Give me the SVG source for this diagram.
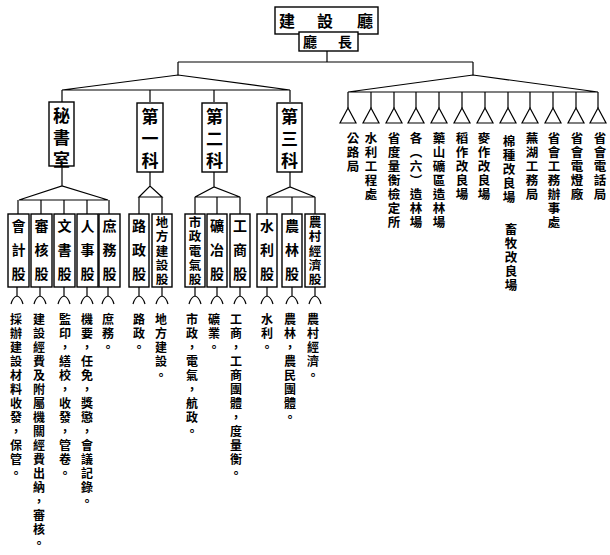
<svg xmlns="http://www.w3.org/2000/svg" width="610" height="555" viewBox="0 0 610 555">
<style>
.b{fill:#fff;stroke:#000;stroke-width:1.4}
.l{fill:none;stroke:#000;stroke-width:1.2}
.t{font-family:"Noto Sans CJK TC","Noto Sans CJK SC",sans-serif;font-weight:bold;fill:#000}
.h{text-anchor:middle}
.v{writing-mode:vertical-rl}
.k{font-size:17px;letter-spacing:5px}
.s3{font-size:14px;letter-spacing:10px}
.s5{font-size:12.5px;letter-spacing:1.8px}
.d{font-size:12px;letter-spacing:2px}
.r{font-size:12.5px;letter-spacing:1.5px}
</style>
<rect width="610" height="555" fill="#fff"/>
<g id="connectors" class="l">
<path d="M327 51V62M178 62H473M178 62V75M473 62V75"/>
<path d="M62 90L178 75L290 90ZM62 90V102M150 90V102M214 90V102M290 90V102"/>
<path d="M348 92L473 75L598 92Z"/>
<path d="M348 92V108M371 92V108M394 92V108M416 92V108M439 92V108M462 92V108M485 92V108M508 92V108M530 92V108M553 92V108M576 92V108M598 92V108"/>
<path d="M62 166V186M19 200L62 186L108 200ZM18 200V214M41 200V214M64 200V214M87 200V214M109 200V214"/>
<path d="M150 172V186M139 197L150 186L162 197ZM139 197V214M162 197V214"/>
<path d="M214 172V187M195 197L214 187L240 197ZM195 197V214M217 197V214M240 197V214"/>
<path d="M290 172V187M267 197L290 187L315 197ZM267 197V214M292 197V214M315 197V214"/>
<path d="M17 287V296M11 304Q13 297 17 296Q21 297 23 304M40 287V296M34 304Q36 297 40 296Q44 297 46 304M64 287V296M58 304Q60 297 64 296Q68 297 70 304M87 287V296M81 304Q83 297 87 296Q91 297 93 304M108 287V296M102 304Q104 297 108 296Q112 297 114 304"/>
<path d="M139 287V296M133 304Q135 297 139 296Q143 297 145 304M162 287V296M156 304Q158 297 162 296Q166 297 168 304M195 287V296M189 304Q191 297 195 296Q199 297 201 304M217 287V296M211 304Q213 297 217 296Q221 297 223 304M240 287V296M234 304Q236 297 240 296Q244 297 246 304M267 287V296M261 304Q263 297 267 296Q271 297 273 304M292 287V296M286 304Q288 297 292 296Q296 297 298 304M315 287V296M309 304Q311 297 315 296Q319 297 321 304"/>
</g>
<g id="n-ting">
<rect class="b" x="275" y="7" width="103" height="27"/>
<text class="t h" font-size="16" y="27"><tspan x="287">建</tspan><tspan x="325">設</tspan><tspan x="365">廳</tspan></text>
</g>
<g id="n-tingzhang">
<rect class="b" x="299" y="32" width="59" height="19"/>
<text class="t h" font-size="14" y="47"><tspan x="310">廳</tspan><tspan x="345">長</tspan></text>
</g>
<g id="n-mishu"><rect class="b" x="49" y="102" width="25" height="64"/><text class="t v k" x="61.5" y="107">秘書室</text></g>
<g id="n-ke1"><rect class="b" x="137" y="103" width="26" height="69"/><text class="t v k" x="150" y="108">第一科</text></g>
<g id="n-ke2"><rect class="b" x="202" y="103" width="25" height="69"/><text class="t v k" x="214.5" y="108">第二科</text></g>
<g id="n-ke3"><rect class="b" x="277" y="103" width="25" height="69"/><text class="t v k" x="289.5" y="108">第三科</text></g>

<g id="n-kuaiji"><rect class="b" x="8" y="214" width="21" height="73"/><text class="t v s3" x="18.5" y="219">會計股</text><text class="t v d" x="16" y="313">採辦建設材料收發，保管。</text></g>
<g id="n-shenhe"><rect class="b" x="31" y="214" width="21" height="73"/><text class="t v s3" x="41.5" y="219">審核股</text><text class="t v d" x="39" y="313">建設經費及附屬機關經費出納，審核。</text></g>
<g id="n-wenshu"><rect class="b" x="54" y="214" width="21" height="73"/><text class="t v s3" x="64.5" y="219">文書股</text><text class="t v d" x="65" y="313">監印，繕校，收發，管卷。</text></g>
<g id="n-renshi"><rect class="b" x="77" y="214" width="21" height="73"/><text class="t v s3" x="87.5" y="219">人事股</text><text class="t v d" x="87" y="313">機要，任免，獎懲，會議記錄。</text></g>
<g id="n-shuwu"><rect class="b" x="99" y="214" width="21" height="73"/><text class="t v s3" x="109.5" y="219">庶務股</text><text class="t v d" x="108" y="313">庶務。</text></g>

<g id="n-luzheng"><rect class="b" x="129" y="214" width="20" height="73"/><text class="t v s3" x="139" y="219">路政股</text><text class="t v d" x="139" y="313">路政。</text></g>
<g id="n-difang"><rect class="b" x="152" y="214" width="20" height="73"/><text class="t v s5" x="162" y="216">地方建設股</text><text class="t v d" x="161" y="313">地方建設。</text></g>
<g id="n-shizheng"><rect class="b" x="185" y="214" width="20" height="73"/><text class="t v s5" x="195" y="216">市政電氣股</text><text class="t v d" x="192" y="313">市政，電氣，航政。</text></g>
<g id="n-kuangye"><rect class="b" x="207" y="214" width="20" height="73"/><text class="t v s3" x="217" y="219">礦冶股</text><text class="t v d" x="214" y="313">礦業。</text></g>
<g id="n-gongshang"><rect class="b" x="230" y="214" width="20" height="73"/><text class="t v s3" x="240" y="219">工商股</text><text class="t v d" x="236" y="313">工商，工商團體，度量衡。</text></g>
<g id="n-shuili"><rect class="b" x="257" y="214" width="20" height="73"/><text class="t v s3" x="267" y="219">水利股</text><text class="t v d" x="267" y="313">水利。</text></g>
<g id="n-nonglin"><rect class="b" x="282" y="214" width="20" height="73"/><text class="t v s3" x="292" y="219">農林股</text><text class="t v d" x="290" y="313">農林，農民團體。</text></g>
<g id="n-nongcun"><rect class="b" x="305" y="214" width="20" height="73"/><text class="t v s5" x="315" y="216">農村經濟股</text><text class="t v d" x="313" y="313">農村經濟。</text></g>

<g id="n-r1"><path class="l" d="M348 108L340 123H356Z"/><text class="t v r" x="353" y="132">公路局</text></g>
<g id="n-r2"><path class="l" d="M371 108L363 123H379Z"/><text class="t v r" x="371" y="132">水利工程處</text></g>
<g id="n-r3"><path class="l" d="M394 108L386 123H402Z"/><text class="t v r" x="394" y="132">省度量衡檢定所</text></g>
<g id="n-r4"><path class="l" d="M416 108L408 123H424Z"/><text class="t v r" x="416" y="132">各（六）</text><text class="t v r" x="416" y="188">造林場</text></g>
<g id="n-r5"><path class="l" d="M439 108L431 123H447Z"/><text class="t v r" x="439" y="132">藥山礦區造林場</text></g>
<g id="n-r6"><path class="l" d="M462 108L454 123H470Z"/><text class="t v r" x="462" y="132">稻作改良場</text></g>
<g id="n-r7"><path class="l" d="M485 108L477 123H493Z"/><text class="t v r" x="484" y="132">麥作改良場</text></g>
<g id="n-r8"><path class="l" d="M508 108L500 123H516Z"/><text class="t v r" x="509" y="135">棉種改良場</text><text class="t v r" x="511" y="223">畜牧改良場</text></g>
<g id="n-r9"><path class="l" d="M530 108L522 123H538Z"/><text class="t v r" x="532" y="132">蕪湖工務局</text></g>
<g id="n-r10"><path class="l" d="M553 108L545 123H561Z"/><text class="t v r" x="554" y="132">省會工務辦事處</text></g>
<g id="n-r11"><path class="l" d="M576 108L568 123H584Z"/><text class="t v r" x="577" y="132">省會電燈廠</text></g>
<g id="n-r12"><path class="l" d="M598 108L590 123H606Z"/><text class="t v r" x="600" y="132">省會電話局</text></g>
</svg>
